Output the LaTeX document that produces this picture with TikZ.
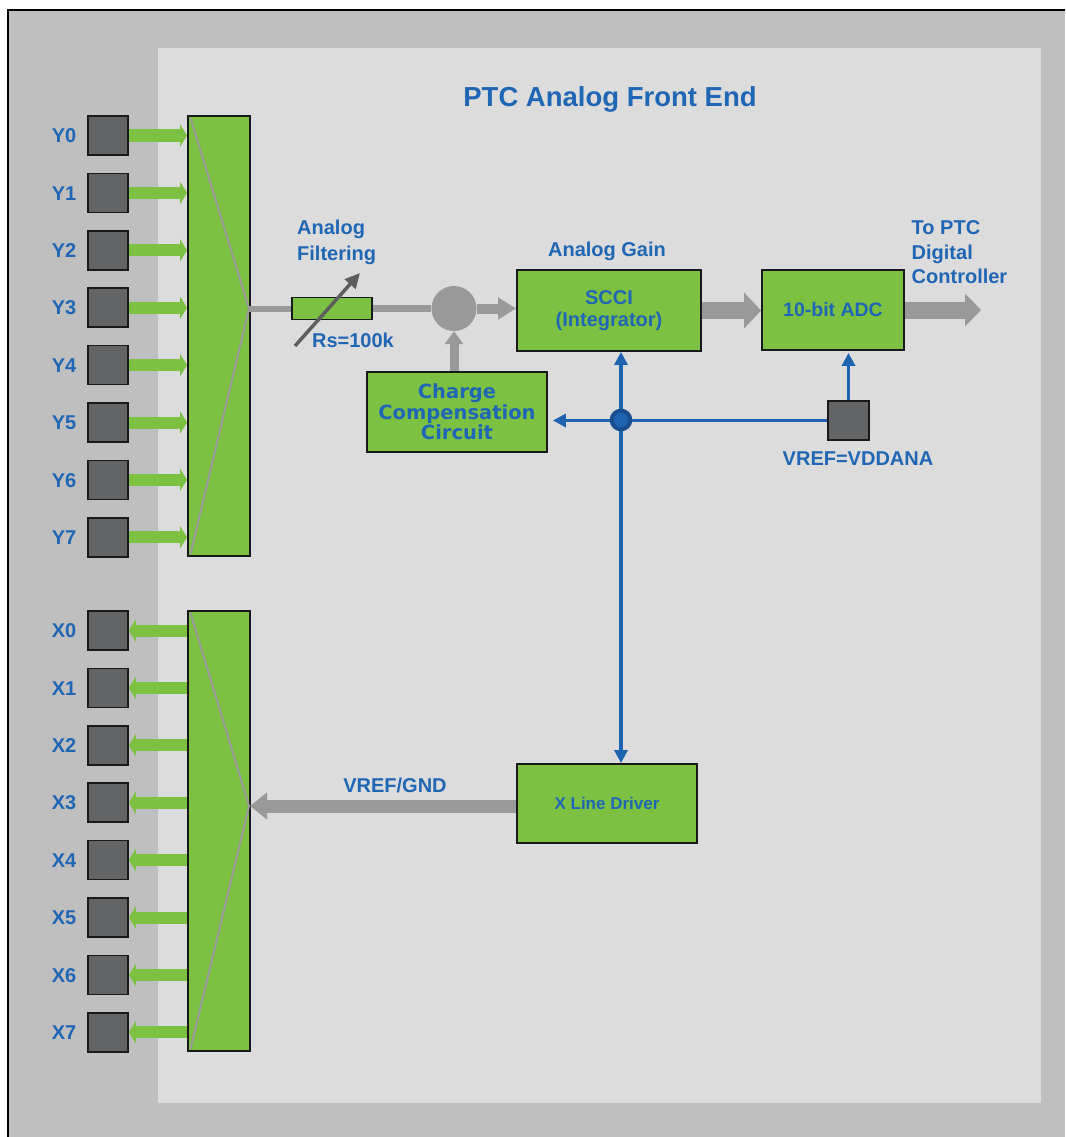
\documentclass[tikz,border=0pt]{standalone}
\usepackage{fontspec}
\setmainfont{Liberation Sans}
\newfontfamily\dvfont{DejaVu Sans}
\usetikzlibrary{arrows.meta}
\definecolor{outerg}{HTML}{BFBFBF}
\definecolor{innerg}{HTML}{DCDCDC}
\definecolor{grn}{HTML}{7DC142}
\definecolor{padc}{HTML}{636466}
\definecolor{arrg}{HTML}{999999}
\definecolor{txtb}{HTML}{1F66B5}
\definecolor{lineb}{HTML}{1E63B0}
\definecolor{darkb}{HTML}{194E92}
\definecolor{varg}{HTML}{5E5E5E}
\begin{document}
\begin{tikzpicture}[x=1pt,y=-1pt,
  greenbox/.style={draw=black!90, line width=1.8pt, fill=grn, inner sep=0pt, text=txtb, align=center, font=\bfseries\fontsize{20}{22}\selectfont},
  muxbox/.style={draw=black!90, line width=1.8pt, fill=grn, inner sep=0pt, minimum width=62pt, minimum height=440pt},
  padbox/.style={draw=black!90, line width=1.6pt, fill=padc, inner sep=0pt, minimum width=40pt, minimum height=39pt},
  lbl/.style={text=txtb, inner sep=0pt, font=\bfseries\fontsize{20}{25}\selectfont},
  greenarr/.style={draw=grn, line width=12pt, -{Triangle[width=22pt,length=7pt]}},
  muxline/.style={draw=arrg, line width=2pt},
  bluearr/.style={draw=lineb, line width=3.5pt},
  btip/.tip={Triangle[width=13pt,length=13pt]}
]
\useasboundingbox (0,0) rectangle (1065,1137);
\fill[outerg] (8,10) rectangle (1065,1137);
\draw[black, line width=1.5pt] (1065,10) -- (8,10) -- (8,1137);
\fill[innerg] (158,48) rectangle (1041,1103);

\node[lbl, font=\bfseries\fontsize{27.5}{30}\selectfont, anchor=base] (title) at (610,107) {PTC Analog Front End};

% multiplexers
\node[muxbox] (ymux) at (219,336) {};
\node[muxbox] (xmux) at (219,831) {};
\draw[muxline] (190.5,118) -- (249,308.5) -- (190.5,554);
\draw[muxline] (190.5,613) -- (249,806) -- (190.5,1049);

% pads
\foreach \i in {0,...,7}{
  \pgfmathsetmacro{\yc}{135.5+57.4*\i}
  \node[padbox] (y\i) at (108,\yc) {};
  \node[lbl, anchor=base] (ly\i) at (64,\yc+7.2) {Y\i};
  \draw[greenarr] (y\i.east) -- (y\i.east -| ymux.west);
  \pgfmathsetmacro{\xc}{630.5+57.4*\i}
  \node[padbox] (x\i) at (108,\xc) {};
  \node[lbl, anchor=base] (lx\i) at (64,\xc+7.2) {X\i};
  \draw[greenarr] (x\i.east -| xmux.west) -- (x\i.east);
}

% blocks
\node[draw=black!90, line width=1.6pt, fill=grn, minimum width=80pt, minimum height=22pt, inner sep=0pt] (rs) at (332,308.5) {};
\node[circle, fill=arrg, minimum size=45pt, inner sep=0pt] (sum) at (454,308.5) {};
\node[greenbox, minimum width=184pt, minimum height=81pt] (scci) at (609,310.5) {SCCI\\(Integrator)};
\node[greenbox, minimum width=142pt, minimum height=80pt, font=\bfseries\fontsize{19.5}{22}\selectfont] (adc) at (833,310) {10-bit ADC};
\node[greenbox, minimum width=180pt, minimum height=80pt, font=\dvfont\bfseries\fontsize{19.5}{20.5}\selectfont] (cc) at (457,412) {Charge\\Compensation\\Circuit};
\node[greenbox, minimum width=180pt, minimum height=79pt, font=\bfseries\fontsize{17}{20}\selectfont] (xld) at (607,803.5) {X Line Driver};
\node[padbox, minimum width=41pt] (vref) at (848.5,420.5) {};

% labels
\node[lbl, align=left, anchor=north west, font=\bfseries\fontsize{20}{25.7}\selectfont] (filt) at (297,219.7) {Analog\\Filtering};
\node[lbl, anchor=base] (rsl) at (353,347.3) {Rs=100k};
\node[lbl, anchor=base] (gain) at (607,256.7) {Analog Gain};
\node[lbl, align=left, anchor=north west, font=\bfseries\fontsize{20}{24.5}\selectfont] (topt) at (911.5,220.5) {To PTC\\Digital\\Controller};
\node[lbl, anchor=base] (vrefl) at (858,465.5) {VREF=VDDANA};
\node[lbl, anchor=base] (gndl) at (395,792.3) {VREF/GND};

% gray signal path
\coordinate (yv) at (249,308.5);
\coordinate (xv) at (250,806);
\coordinate (out) at (981,310);
\draw[arrg, line width=6pt] (yv) -- (rs.west);
\draw[arrg, line width=7.5pt] (rs.east) -- (sum.west);
\draw[arrg, line width=10pt, -{Triangle[width=21pt,length=18pt]}] (sum.east) -- (sum.east -| scci.west);
\draw[arrg, line width=9pt, -{Triangle[width=18pt,length=13pt]}] (sum.south |- cc.north) -- (sum.south);
\draw[arrg, line width=17pt, -{Triangle[width=35pt,length=17pt]}] (scci.east) -- (scci.east -| adc.west);
\draw[arrg, line width=17pt, -{Triangle[width=32pt,length=16pt]}] (adc.east) -- (out);
\draw[arrg, line width=13pt, -{Triangle[width=26pt,length=17pt]}] (xld.west |- xv) -- (xv);
\draw[varg, line width=3.5pt, -{Triangle[width=14pt,length=15pt]}] (295,346) -- (360,273);

% blue reference lines
\coordinate (jn) at (621,420);
\draw[bluearr, btip-btip] (scci.south -| jn) -- (xld.north -| jn);
\draw[bluearr, -btip, shorten >=5pt] (vref.west) -- (vref.west -| cc.east);
\draw[bluearr, -btip, shorten >=2pt] (vref.north) -- (adc.south -| vref.north);
\node[circle, draw=darkb, fill=lineb, line width=4pt, minimum size=18.6pt, inner sep=0pt] (junc) at (jn) {};
\end{tikzpicture}
\end{document}
